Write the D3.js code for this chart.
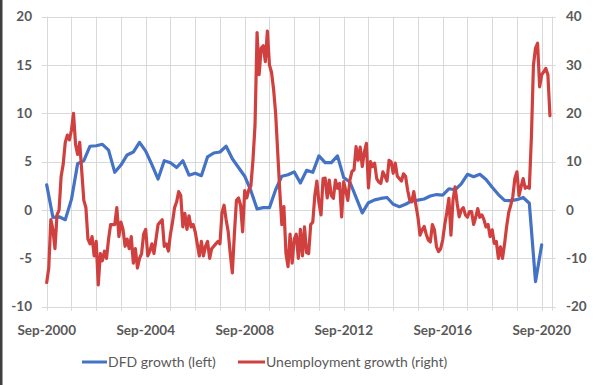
<!DOCTYPE html>
<html>
<head>
<meta charset="utf-8">
<script src="https://cdn.jsdelivr.net/npm/d3@7"></script>
<style>
html,body{margin:0;padding:0;background:#fff;}
svg{display:block;}
</style>
</head>
<body>
<svg id="chart" width="598" height="385"></svg>
<script>
// ---- Data ----
// Unemployment growth (right axis), monthly from Sep-2000 to Jan-2021
const unempGrowth = [
 -15, -12, -2, -4, -8, -1, 0, 7, 9.5, 14, 15.5, 14.5,
 16.5, 20, 13.5, 11.5, 14, 8, 2, 0.5, -6, -7, -5.5, -9.5,
 -6.5, -15.5, -9, -10.5, -8.5, -10, -6, -3, -3, -3, 0.5, -5.5,
 -2.5, -4, -7.5, -6, -8, -5.5, -11, -8, -12, -10, -9, -5,
 -4, -9.5, -8.5, -7, -9, -6, -3, -2.5, -2, -7.5, -7, -8.5,
 -5, -2.5, 0.5, 1.7, 3.8, 3, -3.5, -0.7, -4, -1.2, -3.5, -3,
 -4.5, -7, -9.5, -6.5, -9.5, -7.5, -6.5, -10, -8, -7.5, -7, -6.5,
 -7, -0.5, 1, -2, -4.5, -9, -13, -5, 2, 2.5, 1, -4.5,
 4, 2.5, 4.2, 5, 10.3, 17.5, 36.7, 28, 33.5, 34, 30.7, 37,
 30, 28.5, 25, 20, 12, 4, -3, 0.7, -9, -11.7, -5, -11,
 -6, -5, -10, -4, -9.5, -3.5, -8.8, -9, -3, -2.5, 3, 6,
 1.5, -1, 6.5, 6.6, 2.5, 6.2, 3, 2.4, 6.2, 4.5, 5.5, -1.4,
 5.9, 4, 2, 6.2, 8, 8.3, 13.1, 10.3, 13, 9, 12, 13.8,
 4.6, 10, 9, 9.7, 6.5, 5.8, 5.5, 7.9, 7, 6, 10.3, 10,
 7.6, 9.7, 7, 6.5, 6, 7.5, 7, 4.1, 2.1, 1.7, 3.8, 1,
 -1.5, -5.2, -4.1, -3.4, -5, -6.2, -6.6, -3, -4.1, -7.6, -8.6, -8,
 -6.2, -3, -0.5, 2.4, -5.2, 2.1, 4.8, 1.4, -1.4, 0, 0.5, -1,
 -1.5, -0.3, -0.3, -3, -1.5, 0.3, -1.5, -1, -2, -3.5, -3, -5.5,
 -4.1, -6.9, -6.5, -10, -7.6, -10, -7, -3.4, -0.5, 1, 2.8, 6.6,
 7.9, 3, 4.8, 6.5, 4.5, 4.8, 4.5, 15, 30, 33.5, 34.5, 25.5,
 28, 28.6, 29.3, 28, 19.5
];
// DFD growth (left axis), quarterly from Sep-2000 to Sep-2020
const dfdGrowth = [
 2.6, -0.75,
 -0.7, -1.0, 1.1, 4.8,
 5.1, 6.6, 6.65, 6.8,
 6.2, 3.9, 4.65, 5.7,
 6.0, 7.0, 6.1, 4.7,
 3.2, 5.1, 4.9, 4.4,
 5.1, 3.6, 3.8, 3.55,
 5.5, 5.9, 6.0, 6.6,
 5.3, 4.4, 3.5, 2.0,
 0.1, 0.25, 0.25, 2.1,
 3.5, 3.65, 3.95, 2.8,
 4.1, 3.9, 5.6, 4.9,
 4.9, 5.6, 3.35, 2.9,
 1.3, -0.3, 0.76, 1.05,
 1.2, 1.3, 0.6, 0.35,
 0.6, 0.95, 1.03, 1.14,
 1.45, 1.6, 1.55, 2.2,
 2.1, 2.7, 3.7, 3.45,
 3.7, 3.15, 2.35, 1.6,
 1.0, 0.97, 1.07, 1.3,
 0.7, -7.4, -3.6
];
const xTickLabels = ["Sep-2000","Sep-2004","Sep-2008","Sep-2012","Sep-2016","Sep-2020"];
const leftTicks = [-10, -5, 0, 5, 10, 15, 20];
const rightTicks = [-20, -10, 0, 10, 20, 30, 40];
const seriesNames = ["DFD growth (left)", "Unemployment growth (right)"];

// ---- Layout ----
const svg = d3.select("#chart");
const plotL = 46.7, plotR = 551.7, plotT = 16.7, plotB = 306.7;
const lastMonth = 244.85; // months since Sep-2000 at right edge
const x = d3.scaleLinear().domain([0, lastMonth]).range([plotL, plotR]);
const yL = d3.scaleLinear().domain([-10, 20]).range([plotB, plotT]);
const yR = d3.scaleLinear().domain([-20, 40]).range([plotB, plotT]);
const blue = "#4472C4", red = "#D0403E", grid = "#d9d9d9", txt = "#595959";
const font = "Lato, 'Open Sans', sans-serif";

// left dark border
svg.append("rect").attr("x",0).attr("y",0).attr("width",2.5).attr("height",385).attr("fill","#3f3f3f");

// horizontal gridlines (with small outside tick extents)
const g = svg.append("g");
g.selectAll("line.h").data(leftTicks).enter().append("line")
  .attr("x1", plotL - 5).attr("x2", plotR + 4)
  .attr("y1", d => Math.round(yL(d)) + 0.5).attr("y2", d => Math.round(yL(d)) + 0.5)
  .attr("stroke", grid).attr("stroke-width", 1);
// vertical gridlines every 12 months, plus right edge
const vMonths = d3.range(0, 241, 12).concat([lastMonth]);
g.selectAll("line.v").data(vMonths).enter().append("line")
  .attr("x1", d => Math.round(x(d)) + 0.5).attr("x2", d => Math.round(x(d)) + 0.5)
  .attr("y1", plotT).attr("y2", plotB + 4)
  .attr("stroke", grid).attr("stroke-width", 1);

// axes labels
svg.append("g").selectAll("text").data(leftTicks).enter().append("text")
  .attr("x", 32).attr("y", d => yL(d)).attr("dy", "0.35em")
  .attr("text-anchor", "end").attr("fill", txt)
  .style("font", "bold 13.5px " + font).text(d => d);
svg.append("g").selectAll("text").data(rightTicks).enter().append("text")
  .attr("x", 566).attr("y", d => yR(d)).attr("dy", "0.35em")
  .attr("text-anchor", "start").attr("fill", txt)
  .style("font", "bold 13.5px " + font).text(d => d);
svg.append("g").selectAll("text").data(xTickLabels).enter().append("text")
  .attr("x", (d, i) => x(i * 48)).attr("y", 330).attr("dy", "0.35em")
  .attr("text-anchor", "middle").attr("fill", txt)
  .style("font", "bold 13.5px " + font).text(d => d);

// lines
const lineB = d3.line().x((d, i) => x(i * 3)).y(d => yL(d));
const lineR = d3.line().x((d, i) => x(i)).y(d => yR(d));
svg.append("path").datum(dfdGrowth).attr("d", lineB)
  .attr("fill", "none").attr("stroke", blue).attr("stroke-width", 3.2)
  .attr("stroke-linejoin", "round").attr("stroke-linecap", "round");
svg.append("path").datum(unempGrowth).attr("d", lineR)
  .attr("fill", "none").attr("stroke", red).attr("stroke-width", 3.2)
  .attr("stroke-linejoin", "round").attr("stroke-linecap", "round");

// legend
const leg = [
  {name: seriesNames[0], color: blue, x1: 82, x2: 107},
  {name: seriesNames[1], color: red, x1: 238, x2: 265}
];
const lg = svg.append("g").selectAll("g").data(leg).enter().append("g");
lg.append("line").attr("x1", d => d.x1).attr("x2", d => d.x2)
  .attr("y1", 362).attr("y2", 362).attr("stroke", d => d.color).attr("stroke-width", 3);
lg.append("text").attr("x", d => d.x2 + 1).attr("y", 362).attr("dy", "0.35em")
  .attr("fill", txt).style("font", "14px " + font).text(d => d.name);
</script>
</body>
</html>
